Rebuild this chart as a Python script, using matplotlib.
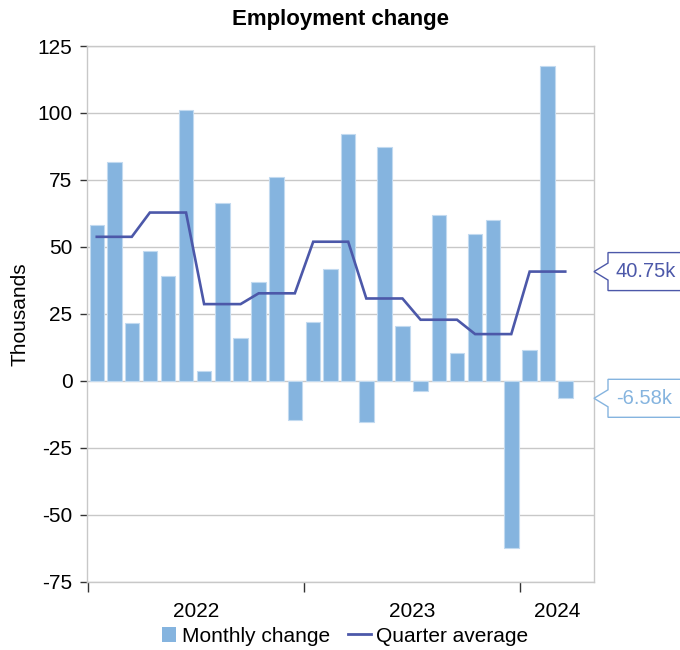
import matplotlib
matplotlib.use("Agg")
import matplotlib.pyplot as plt
import matplotlib.dates as mdates
import matplotlib.transforms as mtransforms
from matplotlib.patches import Polygon, Rectangle
from matplotlib.legend_handler import HandlerPatch
from matplotlib.lines import Line2D
import numpy as np
import pandas as pd

plt.rcParams['font.family'] = ['Liberation Sans', 'DejaVu Sans']
plt.rcParams['axes.unicode_minus'] = False

# Monthly employment change, thousands (Jan 2022 - Mar 2024)
months = pd.date_range('2022-01-01', '2024-03-01', freq='MS')
monthly_change = [58.0, 81.8, 21.4, 48.4, 39.0, 101.0, 3.5, 66.2, 16.1, 36.8, 75.9, -14.8,
                  21.9, 41.6, 92.2, -15.4, 87.2, 20.3, -3.7, 61.8, 10.2, 54.7, 59.9, -62.4,
                  11.33, 117.5, -6.58]
y_ticks = [-75, -50, -25, 0, 25, 50, 75, 100, 125]
years = [2022, 2023, 2024]

BAR_COLOR = '#85b4df'
BAR_EDGE = '#c2daf0'
LINE_COLOR = '#4c58a9'
GRID_COLOR = '#c8c8c8'
FS = 15

df = pd.DataFrame({'date': months, 'change': monthly_change})
df['quarter'] = df['date'].dt.to_period('Q')
df['q_avg'] = df.groupby('quarter')['change'].transform('mean')
month_end = df['date'] + pd.offsets.MonthBegin(1)
df['mid'] = df['date'] + (month_end - df['date']) / 2

fig = plt.figure(figsize=(6.8, 6.5), dpi=100)
ax = fig.add_axes([87 / 680, 68.5 / 650, 507 / 680, 535.5 / 650])

x_mid = mdates.date2num(df['mid'])
ax.bar(x_mid, df['change'], width=24.5, color=BAR_COLOR, edgecolor=BAR_EDGE,
       linewidth=0.8, zorder=2, label='Monthly change')
ax.plot(x_mid, df['q_avg'], color=LINE_COLOR, linewidth=1.9, zorder=3,
        solid_joinstyle='miter', label='Quarter average')

x_left = mdates.date2num(pd.Timestamp('2022-01-01'))
x_right = mdates.date2num(pd.Timestamp('2024-05-04'))
ax.set_xlim(x_left - 1, x_right)
ax.set_ylim(-75, 125)
ax.set_yticks(y_ticks)
ax.set_yticklabels([str(v) for v in y_ticks])
ax.yaxis.grid(True, color=GRID_COLOR, linewidth=1.0, zorder=0)
ax.set_axisbelow(True)

# year boundaries as major ticks, year names centred on the visible span
year_starts = [mdates.date2num(pd.Timestamp(f'{y}-01-01')) for y in years]
year_ends = [mdates.date2num(pd.Timestamp(f'{y + 1}-01-01')) for y in years]
label_pos = [(s + min(e, x_right)) / 2 for s, e in zip(year_starts, year_ends)]
ax.set_xticks(year_starts)
ax.set_xticklabels([])
ax.set_xticks(label_pos, minor=True)
ax.set_xticklabels([str(y) for y in years], minor=True)
ax.tick_params(axis='x', which='major', length=7, width=1, color='#333333', direction='out')
ax.tick_params(axis='x', which='minor', length=0, pad=14.5, labelsize=FS)
ax.tick_params(axis='y', length=5, width=1, color='#333333', pad=5.5, labelsize=FS)

for sp in ax.spines.values():
    sp.set_color(GRID_COLOR)
    sp.set_linewidth(1.0)

ax.set_ylabel('Thousands', fontsize=FS)
ax.yaxis.set_label_coords(-0.114, 0.5)

fig.text((87 + 594) / 2 / 680, 1 - 19 / 650, 'Employment change', ha='center',
         va='center', fontsize=16, fontweight='bold')


# last-value callouts on the right edge
def callout(value, text, color):
    fig.canvas.draw()
    tip_x, y = ax.transData.transform((x_right, value))
    box_x = tip_x + 14
    h = 19
    notch = 8.5
    verts = [(tip_x, y), (box_x, y - notch), (box_x, y - h), (box_x + 200, y - h),
             (box_x + 200, y + h), (box_x, y + h), (box_x, y + notch)]
    poly = Polygon(verts, closed=True, facecolor='white', edgecolor=color,
                   linewidth=1.0, transform=mtransforms.IdentityTransform(),
                   clip_on=False, zorder=5)
    fig.add_artist(poly)
    fig.text((box_x + 8) / 680, y / 650, text, ha='left', va='center',
             fontsize=14.5, color=color, zorder=6)


callout(df['q_avg'].iloc[-1], f"{df['q_avg'].iloc[-1]:.2f}k", LINE_COLOR)
callout(df['change'].iloc[-1], f"{df['change'].iloc[-1]:.2f}k", BAR_COLOR)


class SquareHandler(HandlerPatch):
    def create_artists(self, legend, orig_handle, xdescent, ydescent, width, height,
                       fontsize, trans):
        s = height * 1.0
        p = Rectangle((width - s - xdescent, -ydescent + (height - s) / 2), s, s,
                      facecolor=BAR_COLOR, edgecolor='none', transform=trans)
        return [p]


bar_handle = Rectangle((0, 0), 1, 1, facecolor=BAR_COLOR)
line_handle = Line2D([], [], color=LINE_COLOR, linewidth=2.0)
fig.legend([bar_handle, line_handle], ['Monthly change', 'Quarter average'],
           loc='center', bbox_to_anchor=(341 / 680, 14 / 650), ncol=2, frameon=False,
           fontsize=FS, handlelength=1.1, handletextpad=0.25, columnspacing=0.9,
           handler_map={Rectangle: SquareHandler()})

fig.savefig('out.png', dpi=100)
